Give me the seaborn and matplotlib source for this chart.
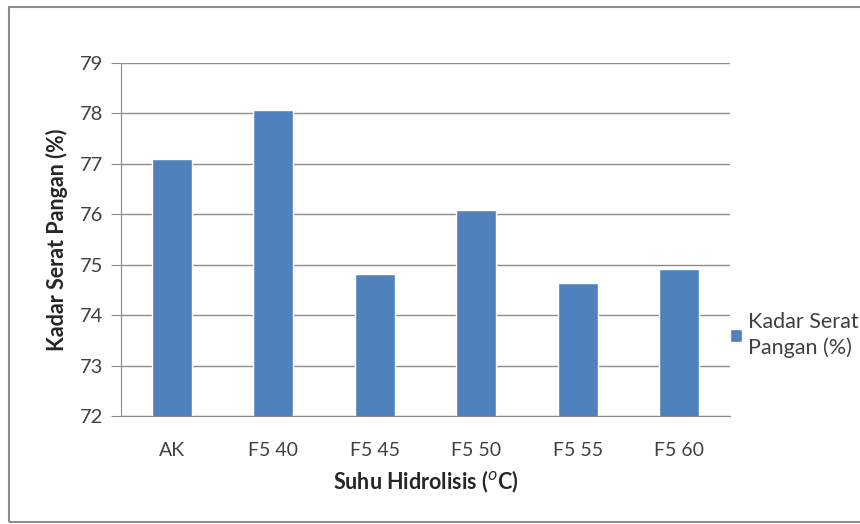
import matplotlib
matplotlib.use("Agg")
import matplotlib.pyplot as plt
import seaborn as sns
from matplotlib.patches import Rectangle

kategori = ["AK", "F5 40", "F5 45", "F5 50", "F5 55", "F5 60"]
kadar_serat = [77.1, 78.07, 74.82, 76.08, 74.63, 74.91]
y_ticks = [72, 73, 74, 75, 76, 77, 78, 79]

sns.set_style("white")
plt.rcParams['font.family'] = ['Lato', 'DejaVu Sans']

fig = plt.figure(figsize=(8.6, 5.24), dpi=100)
ax = fig.add_axes([121 / 860, 1 - 416 / 524, 609 / 860, 353 / 524])

sns.barplot(x=kategori, y=kadar_serat, color="#4F81BD", saturation=1,
            width=0.39, label="Kadar Serat\nPangan (%)", ax=ax)

ax.set_ylim(72, 79)
ax.set_yticks(y_ticks)
ax.set_xlim(-0.5, len(kategori) - 0.5)
ax.yaxis.grid(True, color="#8c8c8c", linewidth=1)
ax.set_axisbelow(True)
for s in ["top", "right"]:
    ax.spines[s].set_visible(False)
ax.spines["left"].set_color("#8c8c8c")
ax.spines["bottom"].set_color("#8c8c8c")
ax.tick_params(axis="y", length=7, color="#8c8c8c", labelsize=14.5,
               labelcolor="#404040", pad=6, left=True)
ax.tick_params(axis="x", length=0, labelsize=14, labelcolor="#404040", pad=19)

ax.set_xlabel("Suhu Hidrolisis ($^{o}$C)", fontsize=15.5, fontweight="bold",
              color="#262626", labelpad=7)
ax.set_ylabel("Kadar Serat Pangan (%)", fontsize=15.5, fontweight="bold",
              color="#262626", labelpad=8)

leg = ax.legend(loc="center left", bbox_to_anchor=(1.0, 0.229), frameon=False,
                fontsize=15.5, handlelength=0.55, handleheight=0.55,
                handletextpad=0.3, borderpad=0, borderaxespad=0,
                labelcolor="#404040")
leg.get_texts()[0].set_linespacing(1.3)

fig.patches.append(Rectangle((9 / 860, 2 / 524), 1.2, 1 - 9 / 524,
                             transform=fig.transFigure, fill=False,
                             edgecolor="#8c8c8c", linewidth=1.5))

fig.savefig("out.png", dpi=100)
